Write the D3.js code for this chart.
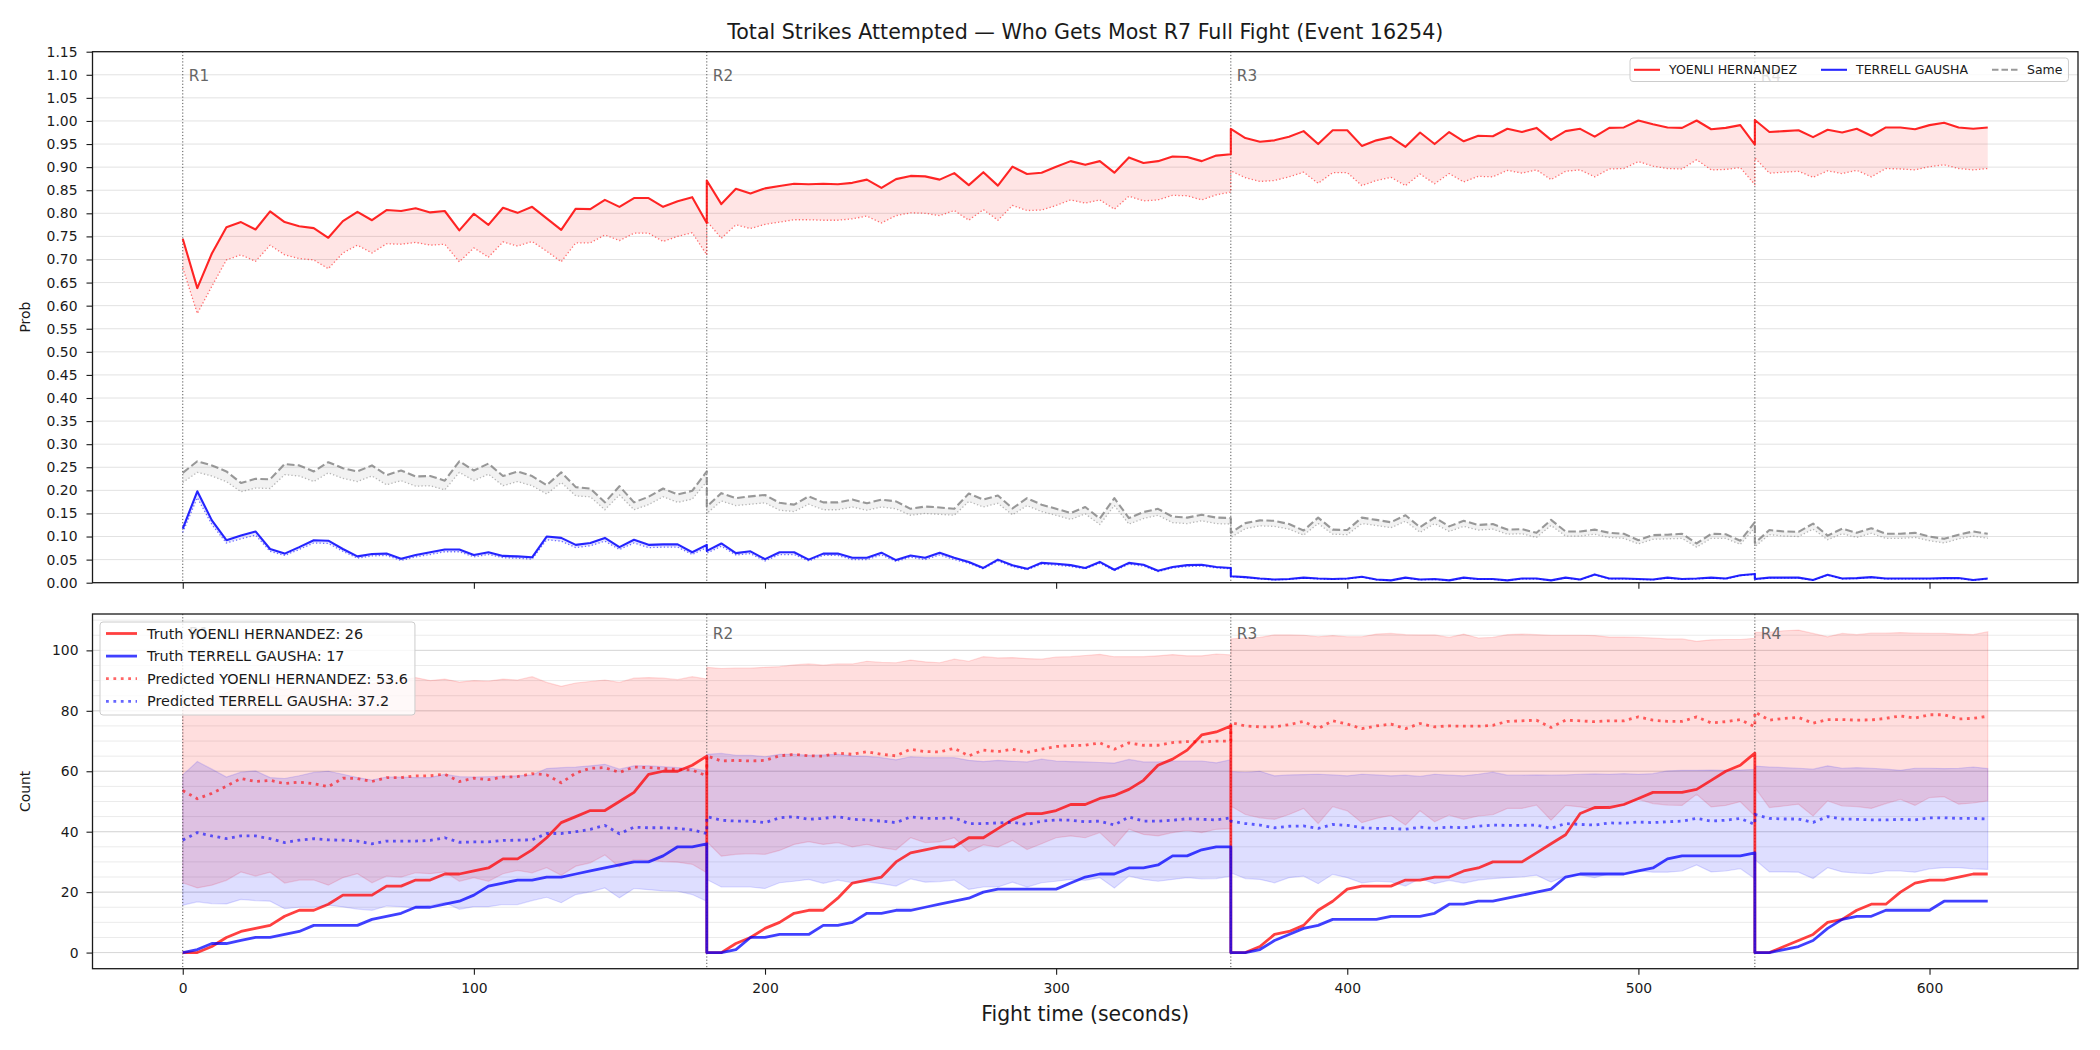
<!DOCTYPE html>
<html><head><meta charset="utf-8">
<script src="https://cdn.jsdelivr.net/npm/d3@7"></script>
<style>body{margin:0;background:#fff}svg{display:block}text{font-family:"DejaVu Sans",sans-serif}</style>
</head><body><svg id="c" width="2100" height="1050"></svg>
<script>
// ---------------- DATA ----------------
const TITLE = "Total Strikes Attempted \u2014 Who Gets Most R7 Full Fight (Event 16254)";
const FIGHTERS = ["YOENLI HERNANDEZ", "TERRELL GAUSHA"];
const TRUTH_TOTALS = [26, 17];
const PRED_TOTALS = [53.6, 37.2];
const ROUND_STARTS = [0, 180, 360, 540];
const ROUND_LABELS = ["R1", "R2", "R3", "R4"];
const X_TICKS = [0, 100, 200, 300, 400, 500, 600];
const TOP_Y_TICKS = [0,0.05,0.10,0.15,0.20,0.25,0.30,0.35,0.40,0.45,0.50,0.55,0.60,0.65,0.70,0.75,0.80,0.85,0.90,0.95,1.00,1.05,1.10,1.15];
const BOT_Y_TICKS = [0, 20, 40, 60, 80, 100];
const BOT_Y_MINOR = [0,5,10,15,20,25,30,35,40,45,50,55,60,65,70,75,80,85,90,95,100,105,110];

// sample times (round 1..4; each round restarts the counts at its first sample)
const TIME = [
0,5,10,15,20,25,30,35,40,45,50,55,60,65,70,75,80,85,90,95,100,105,110,115,120,125,130,135,140,145,150,155,160,165,170,175,180,
180,185,190,195,200,205,210,215,220,225,230,235,240,245,250,255,260,265,270,275,280,285,290,295,300,305,310,315,320,325,330,335,340,345,350,355,360,
360,365,370,375,380,385,390,395,400,405,410,415,420,425,430,435,440,445,450,455,460,465,470,475,480,485,490,495,500,505,510,515,520,525,530,535,540,
540,545,550,555,560,565,570,575,580,585,590,595,600,605,610,615,620];

// top panel: probabilities
const P_RED = [
.745,.638,.713,.770,.781,.765,.804,.781,.772,.768,.747,.783,.803,.785,.807,.805,.811,.802,.805,.763,.799,.775,.812,.801,.814,.789,.764,.810,.809,.829,.814,.833,.833,.814,.826,.835,.779,
.871,.820,.853,.843,.854,.859,.864,.863,.864,.863,.866,.873,.855,.874,.881,.880,.873,.887,.861,.889,.860,.901,.885,.888,.901,.913,.905,.913,.888,.921,.909,.913,.923,.922,.913,.925,.928,
.983,.963,.955,.958,.966,.978,.950,.980,.980,.946,.958,.965,.944,.975,.950,.976,.956,.968,.967,.983,.976,.985,.959,.978,.983,.966,.985,.986,1.001,.993,.986,.985,1.001,.982,.985,.991,.949,
1.002,.976,.978,.980,.965,.981,.975,.983,.968,.986,.986,.982,.991,.996,.986,.983,.986];
const P_RED_LO = [
.682,.583,.642,.699,.710,.696,.731,.710,.702,.699,.680,.714,.731,.714,.734,.733,.737,.731,.733,.695,.725,.705,.738,.729,.739,.718,.695,.736,.736,.753,.741,.757,.757,.739,.750,.758,.710,
.783,.746,.775,.767,.776,.781,.786,.786,.785,.785,.788,.794,.779,.795,.801,.800,.795,.806,.785,.808,.785,.817,.806,.807,.817,.829,.822,.829,.809,.837,.827,.829,.839,.838,.829,.840,.846,
.892,.877,.869,.871,.879,.889,.865,.888,.888,.860,.871,.878,.860,.885,.864,.886,.868,.880,.879,.893,.887,.894,.873,.891,.894,.879,.896,.897,.912,.902,.897,.896,.916,.894,.895,.899,.862,
.920,.887,.889,.891,.878,.892,.886,.893,.879,.897,.896,.894,.901,.905,.897,.894,.897];
const P_BLUE = [
.117,.198,.135,.092,.102,.111,.073,.063,.077,.092,.091,.073,.057,.062,.063,.052,.060,.066,.072,.072,.060,.066,.058,.057,.055,.100,.097,.082,.086,.097,.077,.093,.082,.083,.083,.066,.082,
.069,.085,.064,.068,.051,.066,.066,.050,.063,.063,.054,.054,.065,.049,.059,.054,.065,.054,.045,.032,.050,.038,.030,.043,.041,.038,.032,.045,.028,.043,.039,.026,.034,.038,.039,.034,.032,
.014,.012,.009,.007,.008,.011,.009,.008,.009,.013,.007,.005,.011,.007,.008,.005,.011,.008,.008,.005,.009,.009,.005,.011,.007,.018,.009,.009,.008,.007,.011,.008,.009,.011,.009,.016,.019,
.008,.011,.011,.011,.006,.017,.009,.010,.012,.009,.009,.009,.009,.010,.010,.006,.009];
const P_BLUE_LO = [
.109,.184,.126,.086,.095,.103,.068,.059,.072,.086,.085,.068,.053,.058,.059,.048,.056,.061,.067,.067,.056,.061,.054,.053,.051,.093,.090,.076,.080,.090,.072,.086,.076,.077,.077,.061,.076,
.064,.079,.060,.063,.047,.061,.061,.047,.059,.059,.050,.050,.060,.046,.055,.050,.060,.050,.042,.030,.047,.035,.028,.040,.038,.035,.030,.042,.026,.040,.036,.024,.032,.035,.036,.032,.030,
.013,.011,.008,.006,.007,.010,.008,.007,.008,.012,.006,.005,.010,.006,.007,.005,.010,.007,.007,.005,.008,.008,.005,.010,.006,.017,.008,.008,.007,.006,.010,.007,.008,.010,.008,.015,.018,
.007,.010,.010,.010,.005,.016,.008,.009,.011,.008,.008,.008,.008,.009,.009,.005,.008];
const P_SAME = [
.238,.263,.254,.241,.216,.225,.224,.257,.254,.241,.261,.248,.241,.254,.233,.243,.230,.231,.221,.263,.243,.258,.231,.241,.231,.211,.239,.207,.204,.174,.209,.174,.186,.204,.191,.199,.241,
.165,.194,.183,.187,.190,.173,.169,.187,.174,.174,.180,.172,.180,.176,.160,.165,.163,.160,.193,.180,.189,.161,.183,.169,.160,.151,.164,.139,.183,.140,.153,.160,.143,.141,.147,.141,.140,
.108,.129,.135,.134,.127,.113,.141,.115,.114,.141,.136,.131,.146,.120,.141,.122,.134,.125,.127,.115,.116,.108,.136,.111,.111,.115,.108,.106,.092,.103,.104,.106,.085,.106,.105,.091,.131,
.086,.114,.111,.110,.128,.102,.117,.108,.118,.106,.106,.108,.100,.095,.104,.111,.106];
const P_SAME_LO = [
.217,.239,.231,.219,.197,.205,.204,.234,.231,.219,.238,.226,.219,.231,.212,.221,.209,.210,.201,.239,.221,.235,.210,.219,.210,.192,.217,.188,.186,.158,.190,.158,.169,.186,.174,.181,.219,
.150,.177,.167,.170,.173,.157,.154,.170,.158,.158,.164,.157,.164,.160,.146,.150,.148,.146,.176,.164,.172,.147,.167,.154,.146,.137,.149,.126,.167,.127,.139,.146,.130,.128,.134,.128,.127,
.098,.117,.123,.122,.116,.103,.128,.105,.104,.128,.124,.119,.133,.109,.128,.111,.122,.114,.116,.105,.106,.098,.124,.101,.101,.105,.098,.096,.084,.094,.095,.096,.077,.096,.096,.083,.119,
.078,.104,.101,.100,.116,.093,.106,.098,.107,.096,.096,.098,.091,.086,.095,.101,.096];

// bottom panel: counts
const TRUTH_RED = [
0,0,2,5,7,8,9,12,14,14,16,19,19,19,22,22,24,24,26,26,27,28,31,31,34,38,43,45,47,47,50,53,59,60,60,62,65,
0,0,3,5,8,10,13,14,14,18,23,24,25,30,33,34,35,35,38,38,41,44,46,46,47,49,49,51,52,54,57,62,64,67,72,73,75,
0,0,2,6,7,9,14,17,21,22,22,22,24,24,25,25,27,28,30,30,30,33,36,39,46,48,48,49,51,53,53,53,54,57,60,62,66,
0,0,2,4,6,10,11,14,16,16,20,23,24,24,25,26,26];
const TRUTH_BLUE = [
0,1,3,3,4,5,5,6,7,9,9,9,9,11,12,13,15,15,16,17,19,22,23,24,24,25,25,26,27,28,29,30,30,32,35,35,36,
0,0,1,5,5,6,6,6,9,9,10,13,13,14,14,15,16,17,18,20,21,21,21,21,21,23,25,26,26,28,28,29,32,32,34,35,35,
0,0,1,4,6,8,9,11,11,11,11,12,12,12,13,16,16,17,17,18,19,20,21,25,26,26,26,26,27,28,31,32,32,32,32,32,33,
0,0,1,2,4,8,11,12,12,14,14,14,14,17,17,17,17];
const PRED_RED = [
53.6,50.9,52.7,55.1,57.6,56.6,57.0,55.9,56.4,55.9,54.9,57.7,57.6,56.6,57.9,57.9,58.5,58.5,59.0,56.6,57.7,57.2,58.1,58.2,59.2,58.8,56.2,59.4,61.0,61.2,59.6,61.4,61.2,60.9,60.6,60.4,58.5,
65.1,63.4,63.6,63.4,63.6,65.1,65.6,65.1,65.0,66.0,65.6,66.5,65.6,65.1,67.3,66.5,66.4,67.6,65.1,67.0,66.5,67.3,66.2,67.3,68.2,68.5,68.6,69.4,67.3,69.4,68.6,68.6,69.5,69.8,69.7,70.0,70.0,
76.1,75.0,74.7,74.7,75.4,76.5,74.1,76.7,75.6,74.1,75.0,75.6,74.1,75.8,74.7,75.0,74.9,74.9,75.2,76.5,76.7,76.9,74.5,76.9,76.7,76.4,76.7,76.7,78.0,76.9,76.5,76.5,78.0,76.0,76.4,77.1,74.7,
79.6,76.9,77.5,77.8,75.9,77.1,77.1,76.9,77.0,77.5,78.3,77.6,78.7,78.7,77.3,77.5,78.2];
const PRED_BLUE = [
37.2,39.7,38.6,37.7,38.6,38.6,37.7,36.4,37.2,37.7,37.3,37.2,36.9,36.0,36.9,36.9,36.9,37.1,38.0,36.5,36.6,36.6,37.1,37.2,37.3,39.4,39.4,40.0,40.8,42.1,39.3,41.5,41.3,41.3,41.1,40.6,39.4,
45.0,43.8,43.5,43.5,43.0,44.6,45.0,44.1,44.4,45.0,44.1,43.9,43.5,43.0,44.9,44.4,44.4,44.6,42.7,42.7,42.9,43.1,42.4,43.5,43.9,43.8,43.3,43.5,42.2,44.9,43.5,43.5,43.8,44.3,44.1,43.9,44.6,
43.5,42.7,42.2,41.3,41.8,41.9,41.1,42.4,42.1,41.3,41.1,41.1,40.8,41.5,41.1,41.5,41.3,41.8,42.2,42.1,42.1,42.2,41.1,42.7,42.4,42.2,42.9,42.8,43.2,43.0,43.3,43.5,44.4,43.5,43.8,44.4,42.4,
45.7,44.4,44.2,44.2,43.1,45.0,44.2,44.1,43.9,43.9,44.1,43.9,44.6,44.6,44.4,44.4,44.2];
const RED_BAND_HI = [
84,82,84,86,88,87,88,87,88,88,87,89,90,89,90,90,91,90,90.5,89.5,90,89.8,90.5,90.2,91.3,89.4,88.1,89.2,89.7,90.2,89.4,90.8,91.0,90.8,90.3,91.3,90.5,
94.4,94.0,94.1,94.1,94.4,94.6,95.2,95.5,95.1,95.5,95.5,96.4,96.0,95.9,96.8,96.2,95.9,97.1,96.4,97.9,97.5,97.6,97.3,97.1,97.8,97.9,98.3,98.7,97.9,97.9,97.9,98.2,98.6,98.2,98.2,98.8,98.5,
103.8,104.1,104.3,105.1,105.1,105.0,104.5,104.9,104.5,104.5,105.4,105.6,105.2,105.1,105.1,104.3,105.4,104.1,104.3,105.2,105.4,105.2,105.0,105.0,105.0,104.9,104.4,104.4,104.3,104.1,103.8,103.8,103.0,103.5,103.6,103.6,104.0,
106.0,106.0,106.5,106.7,105.6,104.5,105.6,105.2,105.7,105.7,105.9,105.7,105.6,105.6,105.4,105.2,106.2];
const RED_BAND_LO = [
23.1,21.4,22.3,23.9,26.7,25.3,26.6,23.0,24.0,24.0,22.3,24.8,26.1,23.1,25.3,25.0,26.4,26.1,26.7,23.6,24.8,23.6,26.1,27.2,26.4,28.1,25.6,28.6,29.7,32.3,28.3,30.8,30.5,30.1,29.9,29.2,26.4,
36.7,31.9,32.5,32.7,32.5,33.8,35.8,36.7,35.8,36.4,35.0,35.8,34.7,34.0,38.0,36.4,36.6,38.0,33.4,35.6,34.9,37.1,34.1,36.0,38.0,38.6,38.0,39.7,35.2,40.8,39.1,38.6,39.7,40.4,39.7,40.8,41.0,
48.5,45.7,44.6,44.1,45.7,47.7,42.7,48.3,46.9,43.0,44.4,45.4,42.2,46.9,43.3,45.5,44.1,45.2,45.6,47.7,47.7,48.8,43.8,48.7,48.2,47.4,48.5,48.8,50.7,49.3,48.8,48.7,52.4,48.2,48.7,49.9,45.2,
54.6,48.0,48.5,49.1,45.2,50.2,48.5,48.3,47.7,49.3,50.7,48.7,51.3,51.6,49.1,49.5,50.2];
const BLUE_BAND_HI = [
58.8,63.2,60.7,58.1,59.7,60.1,57.9,57.6,58.5,59.6,60.0,59.0,57.9,57.1,58.1,58.1,57.9,57.9,59.0,58.2,58.1,58.2,58.3,58.5,58.8,60.9,61.2,61.4,61.8,62.3,60.7,61.8,61.8,61.5,61.2,61.0,60.1,
65.6,65.9,65.3,65.3,64.8,65.6,65.6,65.3,65.4,65.6,65.1,64.9,64.5,63.8,64.8,64.5,64.5,64.5,63.6,63.2,63.6,63.3,63.1,64.0,63.4,63.2,63.1,62.9,62.7,63.9,63.1,63.1,63.4,63.4,63.4,62.8,63.8,
59.9,59.6,60.0,58.5,58.8,58.9,59.0,58.8,58.5,59.0,58.8,58.5,58.7,58.3,59.0,58.7,58.5,59.0,59.7,58.7,58.7,58.8,58.7,58.8,59.0,59.1,59.0,59.2,59.0,59.2,60.1,60.3,60.3,60.4,60.3,60.4,60.6,
61.7,61.4,61.2,61.0,60.7,61.8,61.0,61.2,61.0,60.7,60.3,61.0,61.0,60.9,61.0,61.4,60.9];
const BLUE_BAND_LO = [
15.7,16.8,16.2,16.1,17.6,17.2,17.0,14.5,15.0,15.0,15.7,15.1,14.4,14.0,15.4,15.2,14.8,15.5,16.6,14.3,15.2,15.2,15.9,15.9,17.2,18.3,16.5,19.2,20.1,21.4,18.1,21.2,20.8,20.4,20.3,19.2,17.0,
24.2,21.7,21.7,21.7,21.2,23.1,23.6,24.2,22.9,24.0,23.1,23.4,22.8,22.0,24.4,23.3,23.5,24.0,20.9,21.7,21.7,23.3,21.7,23.1,23.6,24.2,23.9,24.8,21.4,25.3,24.2,23.6,24.2,24.8,24.4,24.5,25.3,
26.4,24.5,24.2,23.1,24.8,25.3,22.8,25.9,24.8,23.1,23.6,23.4,22.0,24.5,22.8,23.9,23.0,24.0,24.5,24.8,25.0,25.6,23.3,25.3,25.6,24.8,26.1,25.9,27.0,26.6,26.6,27.0,29.0,26.7,27.0,27.8,24.4,
30.8,26.7,26.7,26.6,24.5,28.1,26.7,26.3,26.1,27.0,27.0,26.6,27.7,28.1,28.1,27.7,27.5];

// ---------------- LAYOUT / STYLE ----------------
const W = 2100, H = 1050;
const PL = 92.5, PR = 2078;
const TOPP = {t: 51.7, b: 582.7};
const BOTP = {t: 614, b: 968.7};
const FONT = "DejaVu Sans";
const RED = "#ff0000", BLUE = "#0000ff", GRAY = "#808080";
const INK = "#1a1a1a";

const svg = d3.select("#c");
svg.append("rect").attr("width", W).attr("height", H).attr("fill", "#fff");
const defs = svg.append("defs");
[["clipTop", TOPP], ["clipBot", BOTP]].forEach(([id, p]) => {
  defs.append("clipPath").attr("id", id).append("rect")
    .attr("x", PL).attr("y", p.t).attr("width", PR - PL).attr("height", p.b - p.t);
});

// scales (matplotlib-like 5% margins)
const tExt = d3.extent(TIME), tPad = (tExt[1] - tExt[0]) * 0.05;
const x = d3.scaleLinear().domain([tExt[0] - tPad, tExt[1] + tPad]).range([PL, PR]);
const yT = d3.scaleLinear().domain([0, 1.15]).range([TOPP.b, TOPP.t]);
const allCounts = [].concat(TRUTH_RED, TRUTH_BLUE, PRED_RED, PRED_BLUE, RED_BAND_HI, RED_BAND_LO, BLUE_BAND_HI, BLUE_BAND_LO);
const cExt = d3.extent(allCounts), cPad = (cExt[1] - cExt[0]) * 0.05;
const yB = d3.scaleLinear().domain([cExt[0] - cPad, cExt[1] + cPad]).range([BOTP.b, BOTP.t]);

function area(g, y, lo, hi, color, op, edge) {
  const a = d3.area().x((d, i) => x(TIME[i])).y0((d, i) => y(lo[i])).y1((d, i) => y(hi[i]));
  g.append("path").datum(TIME).attr("d", a).attr("fill", color).attr("fill-opacity", op)
    .attr("stroke", edge ? color : "none").attr("stroke-opacity", edge ? op : 0).attr("stroke-width", 1.2);
}
function line(g, y, vals, color, op, w, dash) {
  const l = d3.line().x((d, i) => x(TIME[i])).y((d, i) => y(vals[i]));
  g.append("path").datum(TIME).attr("d", l).attr("fill", "none").attr("stroke", color)
    .attr("stroke-opacity", op).attr("stroke-width", w).attr("stroke-linejoin", "round")
    .attr("stroke-dasharray", dash || null);
}
function styleAxis(g) {
  g.attr("font-family", null).attr("font-size", null);
  g.select(".domain").remove();
  g.selectAll(".tick line").attr("stroke", INK).attr("stroke-width", 1.1);
  g.selectAll(".tick text").attr("fill", INK).style("font-family", FONT).style("font-size", "13.9px");
}

// ---------------- TOP PANEL ----------------
const gT = svg.append("g");
const gTc = gT.append("g").attr("clip-path", "url(#clipTop)");
gTc.selectAll(".gt").data(TOP_Y_TICKS).join("line")
  .attr("x1", PL).attr("x2", PR).attr("y1", d => yT(d)).attr("y2", d => yT(d))
  .attr("stroke", "#e2e2e2").attr("stroke-width", 1);

area(gTc, yT, P_SAME_LO, P_SAME, GRAY, 0.1, false);
area(gTc, yT, P_RED_LO, P_RED, RED, 0.1, false);
area(gTc, yT, P_BLUE_LO, P_BLUE, BLUE, 0.1, false);

gTc.selectAll(".vr").data(ROUND_STARTS).join("line")
  .attr("x1", d => x(d)).attr("x2", d => x(d)).attr("y1", TOPP.t).attr("y2", TOPP.b)
  .attr("stroke", "#555").attr("stroke-width", 1).attr("stroke-dasharray", "1.2,2");
gT.selectAll(".rl").data(ROUND_STARTS).join("text")
  .attr("x", d => x(d) + 6).attr("y", 80.5).text((d, i) => ROUND_LABELS[i])
  .attr("fill", "#666").style("font-family", FONT).style("font-size", "15.3px");

line(gTc, yT, P_SAME_LO, GRAY, 0.55, 1.3, "1.3,2.2");
line(gTc, yT, P_SAME, GRAY, 0.8, 2.1, "7.7,3.3");
line(gTc, yT, P_RED_LO, RED, 0.55, 1.3, "1.3,2.2");
line(gTc, yT, P_RED, RED, 0.85, 2.1);
line(gTc, yT, P_BLUE_LO, BLUE, 0.55, 1.3, "1.3,2.2");
line(gTc, yT, P_BLUE, BLUE, 0.85, 2.1);

styleAxis(gT.append("g").attr("transform", `translate(${PL},0)`)
  .call(d3.axisLeft(yT).tickValues(TOP_Y_TICKS).tickFormat(d3.format(".2f")).tickSize(6).tickPadding(9)));
styleAxis(gT.append("g").attr("transform", `translate(0,${TOPP.b})`)
  .call(d3.axisBottom(x).tickValues(X_TICKS).tickFormat("").tickSize(6)));
gT.append("rect").attr("x", PL).attr("y", TOPP.t).attr("width", PR - PL).attr("height", TOPP.b - TOPP.t)
  .attr("fill", "none").attr("stroke", INK).attr("stroke-width", 1.3);
gT.append("text").attr("transform", `translate(30,${(TOPP.t + TOPP.b) / 2}) rotate(-90)`)
  .attr("text-anchor", "middle").attr("fill", INK).style("font-family", FONT).style("font-size", "13.9px").text("Prob");

// top legend (drawn over the R4 label, as in the original)
(function () {
  const g = gT.append("g");
  const box = g.append("rect").attr("y", 58).attr("height", 23.5).attr("rx", 3)
    .attr("fill", "#fff").attr("fill-opacity", 0.8).attr("stroke", "#cccccc").attr("stroke-width", 1);
  const items = [
    {label: FIGHTERS[0], color: RED, op: 0.85, dash: null},
    {label: FIGHTERS[1], color: BLUE, op: 0.85, dash: null},
    {label: "Same", color: GRAY, op: 0.8, dash: "6.5,3"}
  ];
  let cx = 1634; const cy = 69.8;
  items.forEach(it => {
    g.append("line").attr("x1", cx).attr("x2", cx + 26).attr("y1", cy).attr("y2", cy)
      .attr("stroke", it.color).attr("stroke-opacity", it.op).attr("stroke-width", 2.1).attr("stroke-dasharray", it.dash);
    const t = g.append("text").attr("x", cx + 35).attr("y", cy).attr("dy", "0.36em").text(it.label)
      .attr("fill", INK).style("font-family", FONT).style("font-size", "12.5px");
    cx = cx + 35 + t.node().getComputedTextLength() + 24;
  });
  box.attr("x", 1630).attr("width", cx - 24 + 6 - 1630);
})();

// ---------------- BOTTOM PANEL ----------------
const gB = svg.append("g");
const gBc = gB.append("g").attr("clip-path", "url(#clipBot)");
gBc.selectAll(".gm").data(BOT_Y_MINOR).join("line")
  .attr("x1", PL).attr("x2", PR).attr("y1", d => yB(d)).attr("y2", d => yB(d))
  .attr("stroke", "#ebebeb").attr("stroke-width", 1);
gBc.selectAll(".gM").data(BOT_Y_TICKS).join("line")
  .attr("x1", PL).attr("x2", PR).attr("y1", d => yB(d)).attr("y2", d => yB(d))
  .attr("stroke", "#d8d8d8").attr("stroke-width", 1);

area(gBc, yB, RED_BAND_LO, RED_BAND_HI, RED, 0.13, true);
area(gBc, yB, BLUE_BAND_LO, BLUE_BAND_HI, BLUE, 0.13, true);

gBc.selectAll(".vr").data(ROUND_STARTS).join("line")
  .attr("x1", d => x(d)).attr("x2", d => x(d)).attr("y1", BOTP.t).attr("y2", BOTP.b)
  .attr("stroke", "#555").attr("stroke-width", 1).attr("stroke-dasharray", "1.2,2");
gB.selectAll(".rl").data(ROUND_STARTS).join("text")
  .attr("x", d => x(d) + 6).attr("y", 638.5).text((d, i) => ROUND_LABELS[i])
  .attr("fill", "#666").style("font-family", FONT).style("font-size", "15.3px");

line(gBc, yB, TRUTH_RED, RED, 0.75, 2.8);
line(gBc, yB, TRUTH_BLUE, BLUE, 0.75, 2.8);
line(gBc, yB, PRED_RED, RED, 0.6, 2.8, "2.8,4.6");
line(gBc, yB, PRED_BLUE, BLUE, 0.6, 2.8, "2.8,4.6");

styleAxis(gB.append("g").attr("transform", `translate(${PL},0)`)
  .call(d3.axisLeft(yB).tickValues(BOT_Y_TICKS).tickFormat(d3.format("d")).tickSize(6).tickPadding(8)));
styleAxis(gB.append("g").attr("transform", `translate(0,${BOTP.b})`)
  .call(d3.axisBottom(x).tickValues(X_TICKS).tickFormat(d3.format("d")).tickSize(6).tickPadding(8)));
gB.append("rect").attr("x", PL).attr("y", BOTP.t).attr("width", PR - PL).attr("height", BOTP.b - BOTP.t)
  .attr("fill", "none").attr("stroke", INK).attr("stroke-width", 1.3);
gB.append("text").attr("transform", `translate(30,${(BOTP.t + BOTP.b) / 2}) rotate(-90)`)
  .attr("text-anchor", "middle").attr("fill", INK).style("font-family", FONT).style("font-size", "13.9px").text("Count");

// bottom legend (drawn over the R1 label, as in the original)
(function () {
  const g = gB.append("g");
  const items = [
    {label: `Truth ${FIGHTERS[0]}: ${TRUTH_TOTALS[0]}`, color: RED, op: 0.75, dash: null},
    {label: `Truth ${FIGHTERS[1]}: ${TRUTH_TOTALS[1]}`, color: BLUE, op: 0.75, dash: null},
    {label: `Predicted ${FIGHTERS[0]}: ${PRED_TOTALS[0]}`, color: RED, op: 0.6, dash: "2.8,4.6"},
    {label: `Predicted ${FIGHTERS[1]}: ${PRED_TOTALS[1]}`, color: BLUE, op: 0.6, dash: "2.8,4.6"}
  ];
  const box = g.append("rect").attr("x", 100).attr("y", 622).attr("height", 93).attr("rx", 3)
    .attr("fill", "#fff").attr("fill-opacity", 0.8).attr("stroke", "#cccccc").attr("stroke-width", 1);
  let maxW = 0;
  items.forEach((it, i) => {
    const cy = 633.5 + i * 22.6;
    g.append("line").attr("x1", 106).attr("x2", 137).attr("y1", cy).attr("y2", cy)
      .attr("stroke", it.color).attr("stroke-opacity", it.op).attr("stroke-width", 2.8).attr("stroke-dasharray", it.dash);
    const t = g.append("text").attr("x", 147).attr("y", cy).attr("dy", "0.36em").text(it.label)
      .attr("fill", INK).style("font-family", FONT).style("font-size", "14.4px");
    maxW = Math.max(maxW, t.node().getComputedTextLength());
  });
  box.attr("width", 147 + maxW + 7 - 100);
})();

// titles
svg.append("text").attr("x", (PL + PR) / 2).attr("y", 39).attr("text-anchor", "middle")
  .attr("fill", INK).style("font-family", FONT).style("font-size", "20.6px").text(TITLE);
svg.append("text").attr("x", (PL + PR) / 2).attr("y", 1021).attr("text-anchor", "middle")
  .attr("fill", INK).style("font-family", FONT).style("font-size", "20.4px").text("Fight time (seconds)");
</script></body></html>
